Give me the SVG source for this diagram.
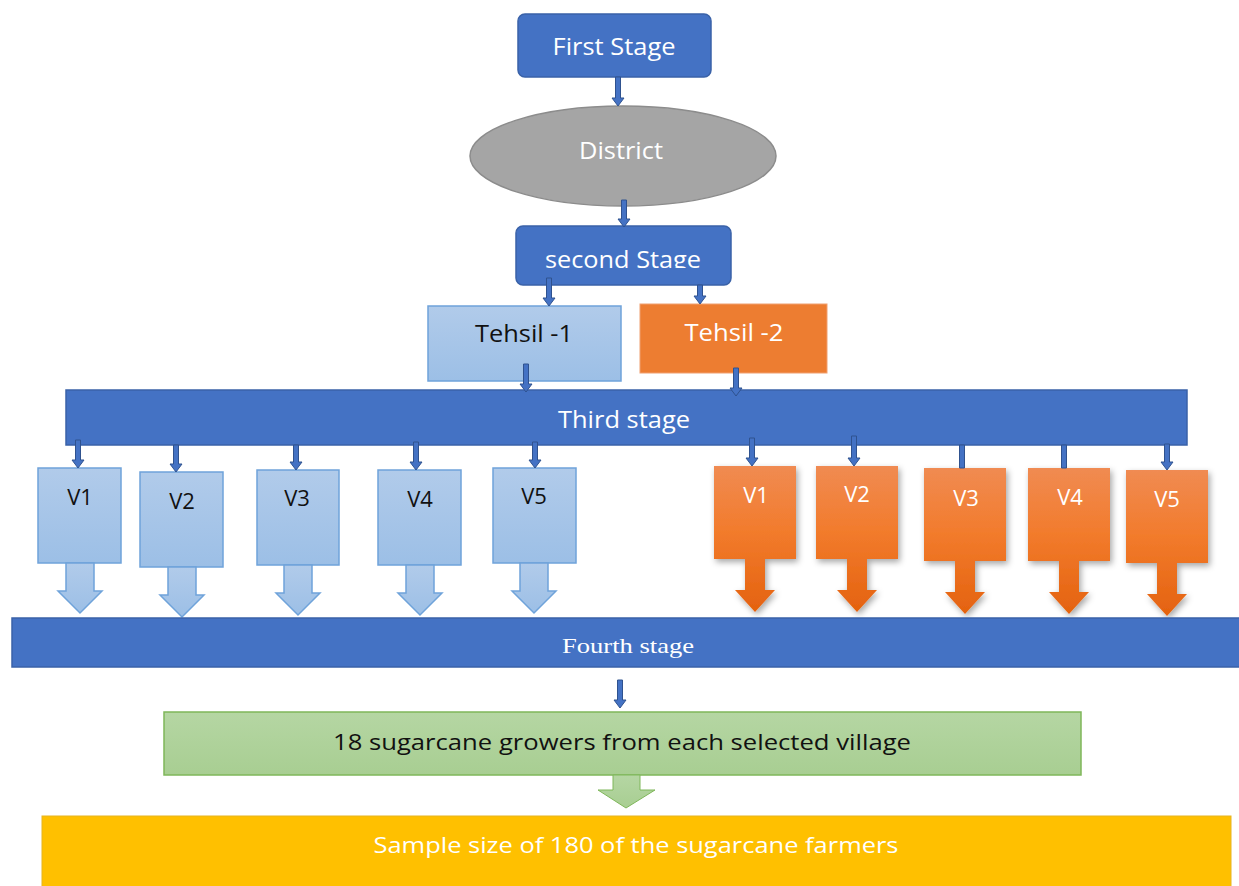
<svg xmlns="http://www.w3.org/2000/svg" width="1239" height="886" viewBox="0 0 1239 886">
<defs>
<linearGradient id="gBlue" x1="0" y1="0" x2="0" y2="1"><stop offset="0" stop-color="#B1CBEA"/><stop offset="1" stop-color="#9CBFE6"/></linearGradient>
<linearGradient id="gOrange" x1="0" y1="0" x2="0" y2="1"><stop offset="0" stop-color="#F08B52"/><stop offset="0.45" stop-color="#F27B2C"/><stop offset="1" stop-color="#E4620F"/></linearGradient>
<linearGradient id="gGreen" x1="0" y1="0" x2="0" y2="1"><stop offset="0" stop-color="#B5D6A3"/><stop offset="1" stop-color="#A8CE92"/></linearGradient>
<filter id="shadow" x="-20%" y="-20%" width="150%" height="150%"><feDropShadow dx="2" dy="3" stdDeviation="3" flood-color="#000" flood-opacity="0.35"/></filter>
<clipPath id="clip2"><rect x="516" y="226" width="216" height="42"/></clipPath>
</defs>
<style>
.blue{fill:#4472C4;stroke:#3A62A8;stroke-width:1.5}
.lt{fill:url(#gBlue);stroke:#6FA3DA;stroke-width:1.5}
.or{fill:url(#gOrange);filter:url(#shadow)}
.w{fill:#FFFFFF;font-family:"Open Sans","Noto Sans",sans-serif;text-anchor:middle}
.k{fill:#111111;font-family:"Open Sans","Noto Sans",sans-serif;text-anchor:middle}
.ser{fill:#FFFFFF;font-family:"Liberation Serif",serif;text-anchor:middle}
.con{fill:#4472C4;stroke:#2F528F;stroke-width:1}
</style>
<rect width="1239" height="886" fill="#FFFFFF"/>

<g id="first-stage"><rect class="blue" x="518" y="14" width="193" height="63" rx="7"/><text class="w" x="614" y="55" font-size="23" textLength="123" lengthAdjust="spacingAndGlyphs">First Stage</text></g>
<g id="district"><ellipse cx="623" cy="156" rx="153" ry="50" fill="#A5A5A5" stroke="#8C8C8C" stroke-width="1.5"/><text class="w" x="621" y="159" font-size="23" fill="#F2F2F2" textLength="84" lengthAdjust="spacingAndGlyphs">District</text></g>
<g id="second-stage"><rect class="blue" x="516" y="226" width="215" height="59" rx="7"/><text class="w" x="623" y="268" font-size="23" textLength="156" lengthAdjust="spacingAndGlyphs" clip-path="url(#clip2)">second Stage</text></g>
<g id="tehsil-1"><rect class="lt" x="428" y="306" width="193" height="75"/><text class="k" x="524" y="342" font-size="23" textLength="98" lengthAdjust="spacingAndGlyphs">Tehsil -1</text></g>
<g id="tehsil-2"><rect x="640" y="304" width="187" height="69" fill="#ED7D31" stroke="#F0A070" stroke-width="1"/><text class="w" x="734" y="341" font-size="23" textLength="99" lengthAdjust="spacingAndGlyphs">Tehsil -2</text></g>
<g id="third-stage"><rect class="blue" x="66" y="390" width="1121" height="55"/><text class="w" x="624" y="428" font-size="23" textLength="132" lengthAdjust="spacingAndGlyphs">Third stage</text></g>

<g id="v1-left"><rect class="lt" x="38" y="468" width="83" height="95"/><polygon class="lt" points="66,563 94,563 94,591 102,591 80,613 58,591 66,591"/><text class="k" x="80" y="505" font-size="22">V1</text></g>
<g id="v2-left"><rect class="lt" x="140" y="472" width="83" height="95"/><polygon class="lt" points="168,567 196,567 196,595 204,595 182,617 160,595 168,595"/><text class="k" x="182" y="509" font-size="22">V2</text></g>
<g id="v3-left"><rect class="lt" x="257" y="470" width="82" height="95"/><polygon class="lt" points="284,565 312,565 312,593 320,593 298,615 276,593 284,593"/><text class="k" x="297" y="506" font-size="22">V3</text></g>
<g id="v4-left"><rect class="lt" x="378" y="470" width="83" height="95"/><polygon class="lt" points="406,565 434,565 434,593 442,593 420,615 398,593 406,593"/><text class="k" x="420" y="507" font-size="22">V4</text></g>
<g id="v5-left"><rect class="lt" x="493" y="468" width="83" height="95"/><polygon class="lt" points="520,563 548,563 548,591 556,591 534,613 512,591 520,591"/><text class="k" x="534" y="504" font-size="22">V5</text></g>

<g id="v1-right"><path class="or" d="M714,466 H796 V559 H765 V590 H775 L755,612 L735,590 H745 V559 H714 Z"/><text class="w" x="756" y="503" font-size="22">V1</text></g>
<g id="v2-right"><path class="or" d="M816,466 H898 V559 H867 V590 H877 L857,612 L837,590 H847 V559 H816 Z"/><text class="w" x="857" y="502" font-size="22">V2</text></g>
<g id="v3-right"><path class="or" d="M924,468 H1006 V561 H975 V592 H985 L965,614 L945,592 H955 V561 H924 Z"/><text class="w" x="966" y="506" font-size="22">V3</text></g>
<g id="v4-right"><path class="or" d="M1028,468 H1110 V561 H1079 V592 H1089 L1069,614 L1049,592 H1059 V561 H1028 Z"/><text class="w" x="1070" y="505" font-size="22">V4</text></g>
<g id="v5-right"><path class="or" d="M1126,470 H1208 V563 H1177 V594 H1187 L1167,616 L1147,594 H1157 V563 H1126 Z"/><text class="w" x="1167" y="507" font-size="22">V5</text></g>

<g id="fourth-stage"><rect class="blue" x="12" y="618" width="1232" height="49"/><text class="ser" x="628" y="653" font-size="21" textLength="132" lengthAdjust="spacingAndGlyphs">Fourth stage</text></g>
<g id="growers"><rect x="164" y="712" width="917" height="63" fill="url(#gGreen)" stroke="#7FB75A" stroke-width="1.5"/><polygon points="613,775 640,775 640,790 655,790 626,808 598,790 613,790" fill="url(#gGreen)" stroke="#7FB75A" stroke-width="1"/><text class="k" x="622" y="750" font-size="22" textLength="578" lengthAdjust="spacingAndGlyphs">18 sugarcane growers from each selected village</text></g>
<g id="sample"><rect x="42" y="816" width="1189" height="75" fill="#FFC000" stroke="#E6B422" stroke-width="1"/><text class="w" x="636" y="853" font-size="22" textLength="525" lengthAdjust="spacingAndGlyphs">Sample size of 180 of the sugarcane farmers</text></g>

<g id="connectors">
<polygon class="con" points="615.5,77 620.5,77 620.5,98 624,98 618,106 612,98 615.5,98"/>
<polygon class="con" points="621.5,200 626.5,200 626.5,219 630,219 624,227 618,219 621.5,219"/>
<polygon class="con" points="546.5,278 551.5,278 551.5,298 555,298 549,306 543,298 546.5,298"/>
<polygon class="con" points="697.5,285 702.5,285 702.5,296 706,296 700,304 694,296 697.5,296"/>
<polygon class="con" points="523.5,364 528.5,364 528.5,384 532,384 526,392 520,384 523.5,384"/>
<polygon class="con" points="733.5,368 738.5,368 738.5,388 742,388 736,396 730,388 733.5,388"/>
<polygon class="con" points="75.5,440 80.5,440 80.5,460 84,460 78,468 72,460 75.5,460"/>
<polygon class="con" points="173.5,445 178.5,445 178.5,464 182,464 176,472 170,464 173.5,464"/>
<polygon class="con" points="293.5,445 298.5,445 298.5,462 302,462 296,470 290,462 293.5,462"/>
<polygon class="con" points="413.5,442 418.5,442 418.5,462 422,462 416,470 410,462 413.5,462"/>
<polygon class="con" points="532.5,442 537.5,442 537.5,460 541,460 535,468 529,460 532.5,460"/>
<polygon class="con" points="749.5,438 754.5,438 754.5,458 758,458 752,466 746,458 749.5,458"/>
<polygon class="con" points="851.5,436 856.5,436 856.5,458 860,458 854,466 848,458 851.5,458"/>
<polygon class="con" points="959.5,445 964.5,445 964.5,468 959.5,468"/>
<polygon class="con" points="1061.5,445 1066.5,445 1066.5,468 1061.5,468"/>
<polygon class="con" points="1164.5,444 1169.5,444 1169.5,462 1173,462 1167,470 1161,462 1164.5,462"/>
<polygon class="con" points="617.5,680 622.5,680 622.5,700 626,700 620,708 614,700 617.5,700"/>
</g>
</svg>
